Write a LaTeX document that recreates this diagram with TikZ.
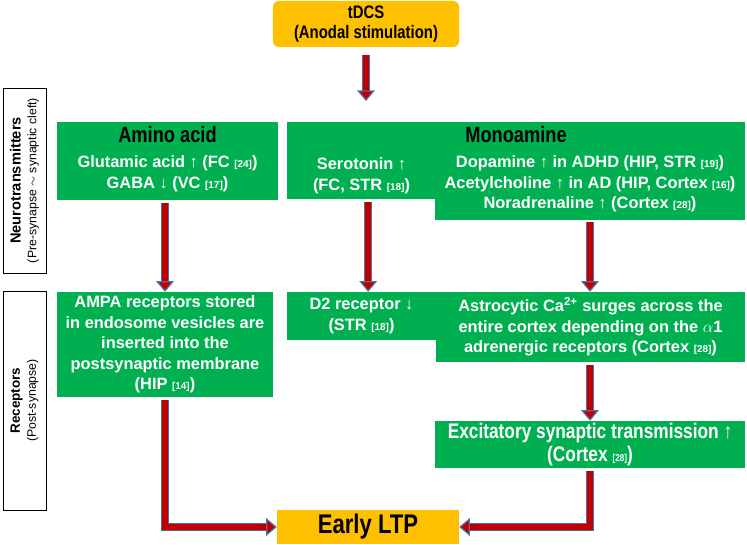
\documentclass[tikz,border=0pt]{standalone}
\usepackage{fontspec}
\setmainfont{Liberation Sans}
\newfontfamily\condfont[FakeStretch=0.82]{Liberation Sans}
\usepackage{xcolor}
\usetikzlibrary{arrows.meta,positioning}

\definecolor{boxgreen}{HTML}{00B050}
\definecolor{boxorange}{HTML}{FFC000}
\definecolor{flowred}{HTML}{C00000}
\definecolor{flowedge}{HTML}{4F6FA8}

\newcommand{\refno}[1]{{\fontsize{8.5}{9}\selectfont[#1]}}

\begin{document}
\begin{tikzpicture}[x=0.03cm, y=-0.03cm,
  greenbox/.style={rectangle, fill=boxgreen, inner sep=0pt, text=white, align=center, font=\fontsize{14}{17.5}\selectfont\bfseries},
  condtext/.style={font=\condfont\fontsize{18}{19.5}\selectfont\bfseries},
  orangebox/.style={rectangle, fill=boxorange, inner sep=0pt, align=center},
  sidebox/.style={rectangle, draw, thick, inner sep=0pt, rotate=90, align=center, font=\fontsize{10.5}{13.5}\selectfont},
  head/.style={align=center, font=\condfont\fontsize{19}{20}\selectfont\bfseries},
  flow/.style={draw=flowedge, line width=1.1pt, double=flowred, double distance=4.6pt,
    -{Triangle[length=9pt, width=15pt, fill=flowred, color=flowedge, line width=1pt]}}
]
\useasboundingbox (0,0) rectangle (747,545);

% Stimulation
\node[orangebox, rounded corners=5pt, minimum width=5.58cm, minimum height=1.38cm,
  font=\condfont\fontsize{15.5}{17.5}\selectfont\bfseries] (tdcs) at (366,24) {tDCS\\(Anodal stimulation)};
\coordinate (split) at (366,101);

% Side labels
\node[sidebox, minimum width=5.55cm, minimum height=1.29cm] (pre) at (24.5,180.5)
  {{\fontsize{12.5}{14}\selectfont\bfseries Neurotransmitters}\\(Pre-synapse $\sim$ synaptic cleft)};
\node[sidebox, minimum width=6.57cm, minimum height=1.29cm] (post) at (24.5,400.5)
  {{\fontsize{11.5}{14}\selectfont\bfseries Receptors}\\(Post-synapse)};

% Neurotransmitters
\node[greenbox, minimum width=6.63cm, minimum height=2.34cm] (amino) at (167.5,161) {};
\node[greenbox, minimum width=4.47cm, minimum height=2.31cm] (sero) at (361.5,160.5) {};
\node[greenbox, minimum width=9.30cm, minimum height=2.94cm] (mono) at (590,171) {};
\node[head] (aminohead) at (167.5,135) {Amino acid};
\node[head] (monohead) at (516,135) {Monoamine};
\node[greenbox] (aminotxt) at (167.5,174) {Glutamic acid ↑ (FC \refno{24})\\GABA ↓ (VC \refno{17})};
\node[greenbox] (serotxt) at (361.5,176) {Serotonin ↑\\(FC, STR \refno{18})};
\node[greenbox] (monotxt) at (590,184) {Dopamine ↑ in ADHD (HIP, STR \refno{19})\\
  Acetylcholine ↑ in AD (HIP, Cortex \refno{16})\\Noradrenaline ↑ (Cortex \refno{28})};

% Receptors
\node[greenbox, minimum width=6.48cm, minimum height=3.15cm] (ampa) at (165,344.5)
  {AMPA receptors stored\\in endosome vesicles are\\inserted into the\\postsynaptic membrane\\(HIP \refno{14})};
\node[greenbox, minimum width=4.47cm, minimum height=1.44cm] (d2) at (361.5,316)
  {D2 receptor ↓\\(STR \refno{18})};
\node[greenbox, minimum width=9.27cm, minimum height=2.10cm] (astro) at (590.5,327)
  {Astrocytic Ca\textsuperscript{2+} surges across the\\entire cortex depending on the $\alpha$1\\adrenergic receptors (Cortex \refno{28})};
\node[greenbox, condtext, minimum width=9.30cm, minimum height=1.41cm] (excit) at (590,444.5)
  {Excitatory synaptic transmission ↑\\(Cortex \refno{28})};

% Outcome
\node[orangebox, minimum width=5.46cm, minimum height=1.02cm,
  font=\condfont\fontsize{23}{24}\selectfont\bfseries] (ltp) at (368,527) {Early LTP};

% Arrows
\draw[flow, shorten <=0.24cm] (tdcs.south) -- (split);
\draw[flow, shorten <=0.09cm] (amino.south -| ampa.north) -- (ampa.north);
\draw[flow, shorten <=0.09cm] ([xshift=0.2cm]sero.south) -- ([xshift=0.2cm]d2.north);
\draw[flow, shorten <=0.06cm] (mono.south) -- (mono.south |- astro.north);
\draw[flow, shorten <=0.09cm] (astro.south -| excit.north) -- (excit.north);
\draw[flow, shorten <=0.09cm] (ampa.south) |- (ltp.west);
\draw[flow, shorten <=0.09cm] (excit.south) |- (ltp.east);

\end{tikzpicture}
\end{document}
